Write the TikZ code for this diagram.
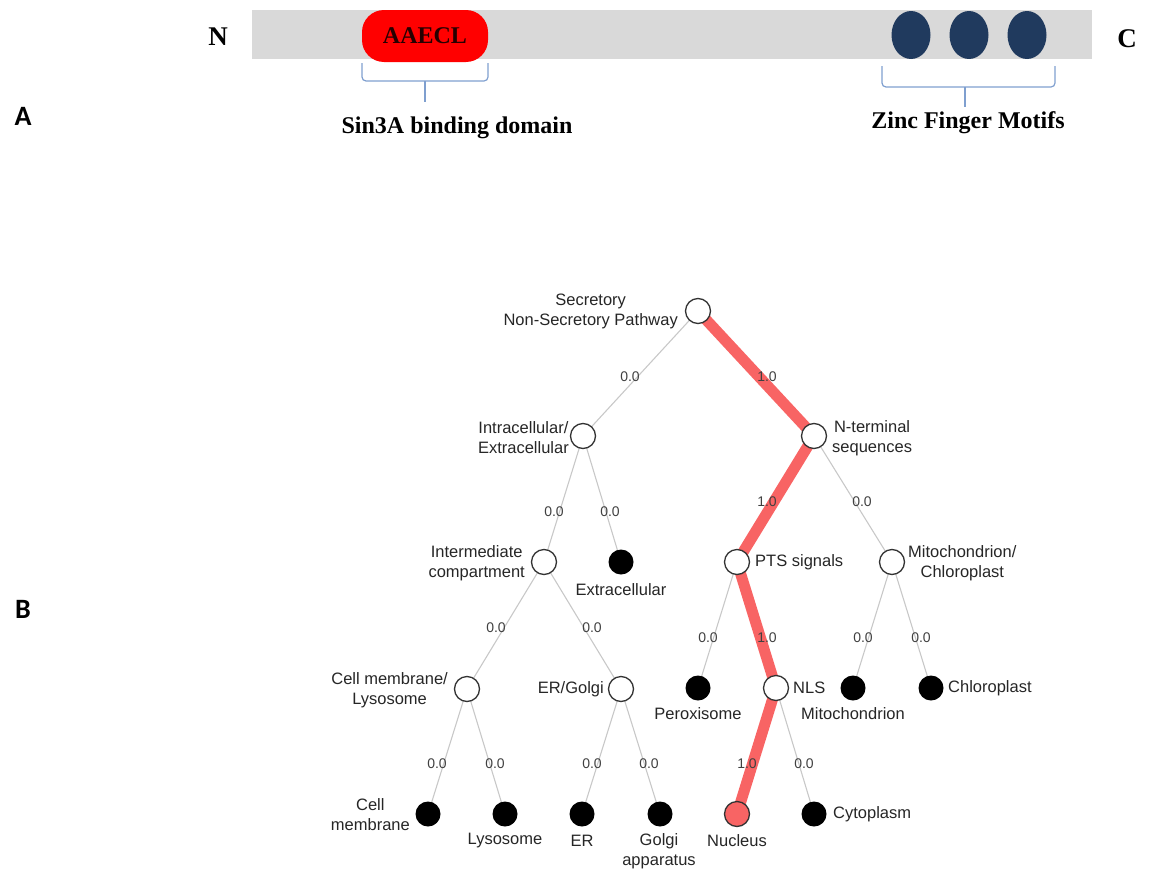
\documentclass[tikz,border=0pt]{standalone}
\usepackage{fontspec}
\setmainfont{Liberation Sans}
\newfontfamily\serifb{Liberation Serif}
\newfontfamily\calb{Carlito}
\usetikzlibrary{shapes.geometric}
\definecolor{bargray}{HTML}{D9D9D9}
\definecolor{pillred}{HTML}{FF0000}
\definecolor{navy}{HTML}{203A5E}
\definecolor{hotred}{HTML}{F86464}
\definecolor{braceblue}{HTML}{7F9FCF}
\definecolor{edgegray}{HTML}{C8C8C8}
\pgfdeclarelayer{bg}
\pgfsetlayers{bg,main}
\begin{document}
\begin{tikzpicture}[x=1pt,y=-1pt,
  innode/.style={circle, draw=black!80, fill=white, minimum size=25pt, inner sep=0pt, line width=1.3pt},
  leafnode/.style={circle, fill=black, minimum size=25pt, inner sep=0pt},
  nucnode/.style={circle, draw=black!80, fill=hotred, minimum size=25pt, inner sep=0pt, line width=1.3pt},
  gedge/.style={draw=edgegray, line width=1.1pt},
  hedge/.style={draw=hotred, line width=11pt},
  lbl/.style={font=\fontsize{16.5}{20}\selectfont, align=center, inner sep=0pt, text=black!85},
  elbl/.style={font=\fontsize{14}{15}\selectfont, inner sep=0pt, text=black!75},
  panel/.style={font=\calb\bfseries\fontsize{28}{30}\selectfont, inner sep=0pt},
  topb/.style={font=\serifb\bfseries\fontsize{24}{26}\selectfont, inner sep=0pt},
  brace/.style={draw=braceblue, line width=1.2pt, rounded corners=4pt}
]
\useasboundingbox (0,0) rectangle (1154,870);

% ---------- Panel A ----------
\node[panel] (pa) at (23,116) {A};
\node[panel] (pb) at (23,609) {B};

\fill[bargray] (252,10) rectangle (1092,59);
\node[topb, font=\serifb\bfseries\fontsize{27}{28}\selectfont] (nterm) at (218,37) {N};
\node[topb, font=\serifb\bfseries\fontsize{27}{28}\selectfont] (cterm) at (1127,39) {C};

\node[fill=pillred, rounded corners=22pt, minimum width=126pt, minimum height=52pt, inner sep=0pt,
      font=\serifb\bfseries\fontsize{24}{25}\selectfont, text=black!85!red] (pill) at (425,36) {AAECL};

\node[ellipse, fill=navy, minimum width=39pt, minimum height=48pt, inner sep=0pt] (z1) at (911,35) {};
\node[ellipse, fill=navy, minimum width=39pt, minimum height=48pt, inner sep=0pt] (z2) at (969,35) {};
\node[ellipse, fill=navy, minimum width=39pt, minimum height=48pt, inner sep=0pt] (z3) at (1027,35) {};

\draw[brace] (362,63) -- (362,81) -- (488,81) -- (488,63);
\draw[draw=braceblue, line width=1.2pt] (425,81) -- (425,102);
\draw[brace] (882,66) -- (882,87) -- (1055,87) -- (1055,66);
\draw[draw=braceblue, line width=1.2pt] (965,87) -- (965,107);

\node[topb] (sin) at (457,128) {Sin3A binding domain};
\node[topb] (zf) at (968,123) {Zinc Finger Motifs};

% ---------- Panel B: tree ----------
\node[innode] (root) at (698,311) {};
\node[innode] (intra) at (583,436) {};
\node[innode] (nts) at (814,436) {};
\node[innode] (inter) at (544,562) {};
\node[leafnode] (extra) at (621,562) {};
\node[innode] (pts) at (737,562) {};
\node[innode] (mc) at (892,562) {};
\node[innode] (cml) at (467,689) {};
\node[innode] (erg) at (621,689) {};
\node[leafnode] (perox) at (698,688) {};
\node[innode] (nls) at (776,688) {};
\node[leafnode] (mito) at (853,688) {};
\node[leafnode] (chloro) at (931,688) {};
\node[leafnode] (cmem) at (428,814) {};
\node[leafnode] (lyso) at (505,814) {};
\node[leafnode] (er) at (582,814) {};
\node[leafnode] (golgi) at (660,814) {};
\node[nucnode] (nuc) at (737,814) {};
\node[leafnode] (cyto) at (814,814) {};

\begin{pgfonlayer}{bg}
\draw[gedge] (root.center) -- (intra.center);
\draw[hedge] (root.center) -- (nts.center);
\draw[gedge] (intra.center) -- (inter.center);
\draw[gedge] (intra.center) -- (extra.center);
\draw[hedge] (nts.center) -- (pts.center);
\draw[gedge] (nts.center) -- (mc.center);
\draw[gedge] (inter.center) -- (cml.center);
\draw[gedge] (inter.center) -- (erg.center);
\draw[gedge] (pts.center) -- (perox.center);
\draw[hedge] (pts.center) -- (nls.center);
\draw[gedge] (mc.center) -- (mito.center);
\draw[gedge] (mc.center) -- (chloro.center);
\draw[gedge] (cml.center) -- (cmem.center);
\draw[gedge] (cml.center) -- (lyso.center);
\draw[gedge] (erg.center) -- (er.center);
\draw[gedge] (erg.center) -- (golgi.center);
\draw[hedge] (nls.center) -- (nuc.center);
\draw[gedge] (nls.center) -- (cyto.center);
\end{pgfonlayer}

% edge labels
\node[elbl] (e1) at (630,377) {0.0};
\node[elbl] (e2) at (767,377) {1.0};
\node[elbl] (e3) at (554,512) {0.0};
\node[elbl] (e4) at (610,512) {0.0};
\node[elbl] (e5) at (767,502) {1.0};
\node[elbl] (e6) at (862,502) {0.0};
\node[elbl] (e7) at (496,628) {0.0};
\node[elbl] (e8) at (592,628) {0.0};
\node[elbl] (e9) at (708,638) {0.0};
\node[elbl] (e10) at (767,638) {1.0};
\node[elbl] (e11) at (863,638) {0.0};
\node[elbl] (e12) at (921,638) {0.0};
\node[elbl] (e13) at (437,764) {0.0};
\node[elbl] (e14) at (495,764) {0.0};
\node[elbl] (e15) at (592,764) {0.0};
\node[elbl] (e16) at (649,764) {0.0};
\node[elbl] (e17) at (747,764) {1.0};
\node[elbl] (e18) at (804,764) {0.0};

% node labels
\node[lbl, anchor=east] (lroot) at (678,311) {Secretory\\Non-Secretory Pathway};
\node[lbl, anchor=east] (lintra) at (569,438) {Intracellular/\\Extracellular};
\node[lbl, anchor=west] (lnts) at (832,438) {N-terminal\\sequences};
\node[lbl, anchor=east] (linter) at (525,563) {Intermediate\\compartment};
\node[lbl] (lextra) at (621,590) {Extracellular};
\node[lbl, anchor=west] (lpts) at (755,562) {PTS signals};
\node[lbl, anchor=west] (lmc) at (908,563) {Mitochondrion/\\Chloroplast};
\node[lbl, anchor=east] (lcml) at (448,690) {Cell membrane/\\Lysosome};
\node[lbl, anchor=east] (lerg) at (604,689) {ER/Golgi};
\node[lbl] (lperox) at (698,714) {Peroxisome};
\node[lbl, anchor=west] (lnls) at (793,688) {NLS};
\node[lbl] (lmito) at (853,714) {Mitochondrion};
\node[lbl, anchor=west] (lchloro) at (948,688) {Chloroplast};
\node[lbl, anchor=east] (lcmem) at (410,815) {Cell\\membrane};
\node[lbl] (llyso) at (505,841) {Lysosome};
\node[lbl] (ler) at (582,841) {ER};
\node[lbl] (lgolgi) at (659,851) {Golgi\\apparatus};
\node[lbl] (lnuc) at (737,841) {Nucleus};
\node[lbl, anchor=west] (lcyto) at (833,814) {Cytoplasm};
\end{tikzpicture}
\end{document}
